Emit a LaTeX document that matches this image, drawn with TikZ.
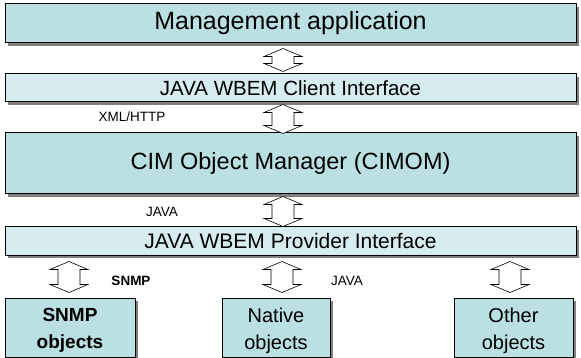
\documentclass[tikz,border=0pt]{standalone}
\usepackage{fontspec}
\setmainfont{Liberation Sans}
\usetikzlibrary{calc,shadows}
\definecolor{boxdark}{RGB}{186,224,227}
\definecolor{boxlight}{RGB}{214,236,238}
\definecolor{shadowgray}{RGB}{128,128,128}
\tikzset{
  layerbox/.style={draw=black, line width=1pt, fill=boxdark, inner sep=0pt,
    drop shadow={shadow xshift=3pt, shadow yshift=-3pt, fill=shadowgray, opacity=1}},
  thinbox/.style={layerbox, fill=boxlight},
  objbox/.style={layerbox, minimum height=59pt},
  objtext/.style={align=center, inner sep=0pt, yshift=-3pt, font=\fontsize{20}{27}\selectfont},
  arrowshape/.style={draw=black, line width=0.6pt, fill=white, line join=miter},
  lbl/.style={font=\fontsize{13.5}{15}\selectfont, inner sep=0pt}
}
\newcommand\wbemarrow[2]{%
  \draw[arrowshape] let \p1=(#1), \p2=(#2) in
   (\x1,\y1) -- (\x1+19pt,\y1-8pt) -- (\x1+11pt,\y1-8pt) -- (\x1+11pt,\y2+8pt) --
   (\x1+19pt,\y2+8pt) -- (\x1,\y2) -- (\x1-19pt,\y2+8pt) -- (\x1-11pt,\y2+8pt) --
   (\x1-11pt,\y1-8pt) -- (\x1-19pt,\y1-8pt) -- cycle;}
\begin{document}
\begin{tikzpicture}[x=1pt,y=-1pt]
\useasboundingbox (0,0) rectangle (581,358);
% layer boxes
\node[layerbox, minimum width=571pt, minimum height=39pt, font=\fontsize{25}{28}\selectfont] (mgmt) at (290.5,23.5) {Management application};
\node[thinbox, minimum width=571pt, minimum height=28pt, font=\fontsize{20.5}{24}\selectfont] (client) at (290.5,88) {JAVA WBEM Client Interface};
\node[layerbox, minimum width=571pt, minimum height=61pt, font=\fontsize{23.5}{28}\selectfont] (cimom) at (290.5,163.5) {CIM Object Manager (CIMOM)};
\node[thinbox, minimum width=571pt, minimum height=28pt, font=\fontsize{21}{24}\selectfont] (prov) at (290.5,241) {JAVA WBEM Provider Interface};
% object boxes
\node[objbox, minimum width=130pt, label={[objtext, font=\fontsize{19}{27}\selectfont\bfseries]center:SNMP\\objects}] (snmp) at (70,327.5) {};
\node[objbox, minimum width=108pt, label={[objtext]center:Native\\objects}] (native) at (276,327.5) {};
\node[objbox, minimum width=119pt, label={[objtext]center:Other\\objects}] (other) at (513.5,327.5) {};
% coordinates for arrows
\coordinate (a1t) at ($(mgmt.south)+(-7.5,5)$);
\coordinate (a1b) at ($(client.north)+(-7.5,-2)$);
\coordinate (a2t) at ($(client.south)+(-7.5,2)$);
\coordinate (a2b) at ($(cimom.north)+(-7.5,1)$);
\coordinate (a3t) at ($(cimom.south)+(-7.5,2)$);
\coordinate (a3b) at ($(prov.north)+(-7.5,0)$);
\coordinate (a4t) at ($(snmp.north |- prov.south)+(-1,6)$);
\coordinate (a4b) at ($(snmp.north)+(-1,-5)$);
\coordinate (a5t) at ($(native.north |- prov.south)+(6,6)$);
\coordinate (a5b) at ($(native.north)+(6,-5)$);
\coordinate (a6t) at ($(other.north |- prov.south)+(-3.5,6)$);
\coordinate (a6b) at ($(other.north)+(-3.5,-5)$);
\wbemarrow{a1t}{a1b}
\wbemarrow{a2t}{a2b}
\wbemarrow{a3t}{a3b}
\wbemarrow{a4t}{a4b}
\wbemarrow{a5t}{a5b}
\wbemarrow{a6t}{a6b}
% labels
\node[lbl] (lxml) at (132,117) {XML/HTTP};
\node[lbl] (ljava1) at (162,212) {JAVA};
\node[lbl, font=\fontsize{13.5}{15}\selectfont\bfseries] (lsnmp) at (131,281) {SNMP};
\node[lbl] (ljava2) at (347,281) {JAVA};
\end{tikzpicture}
\end{document}
